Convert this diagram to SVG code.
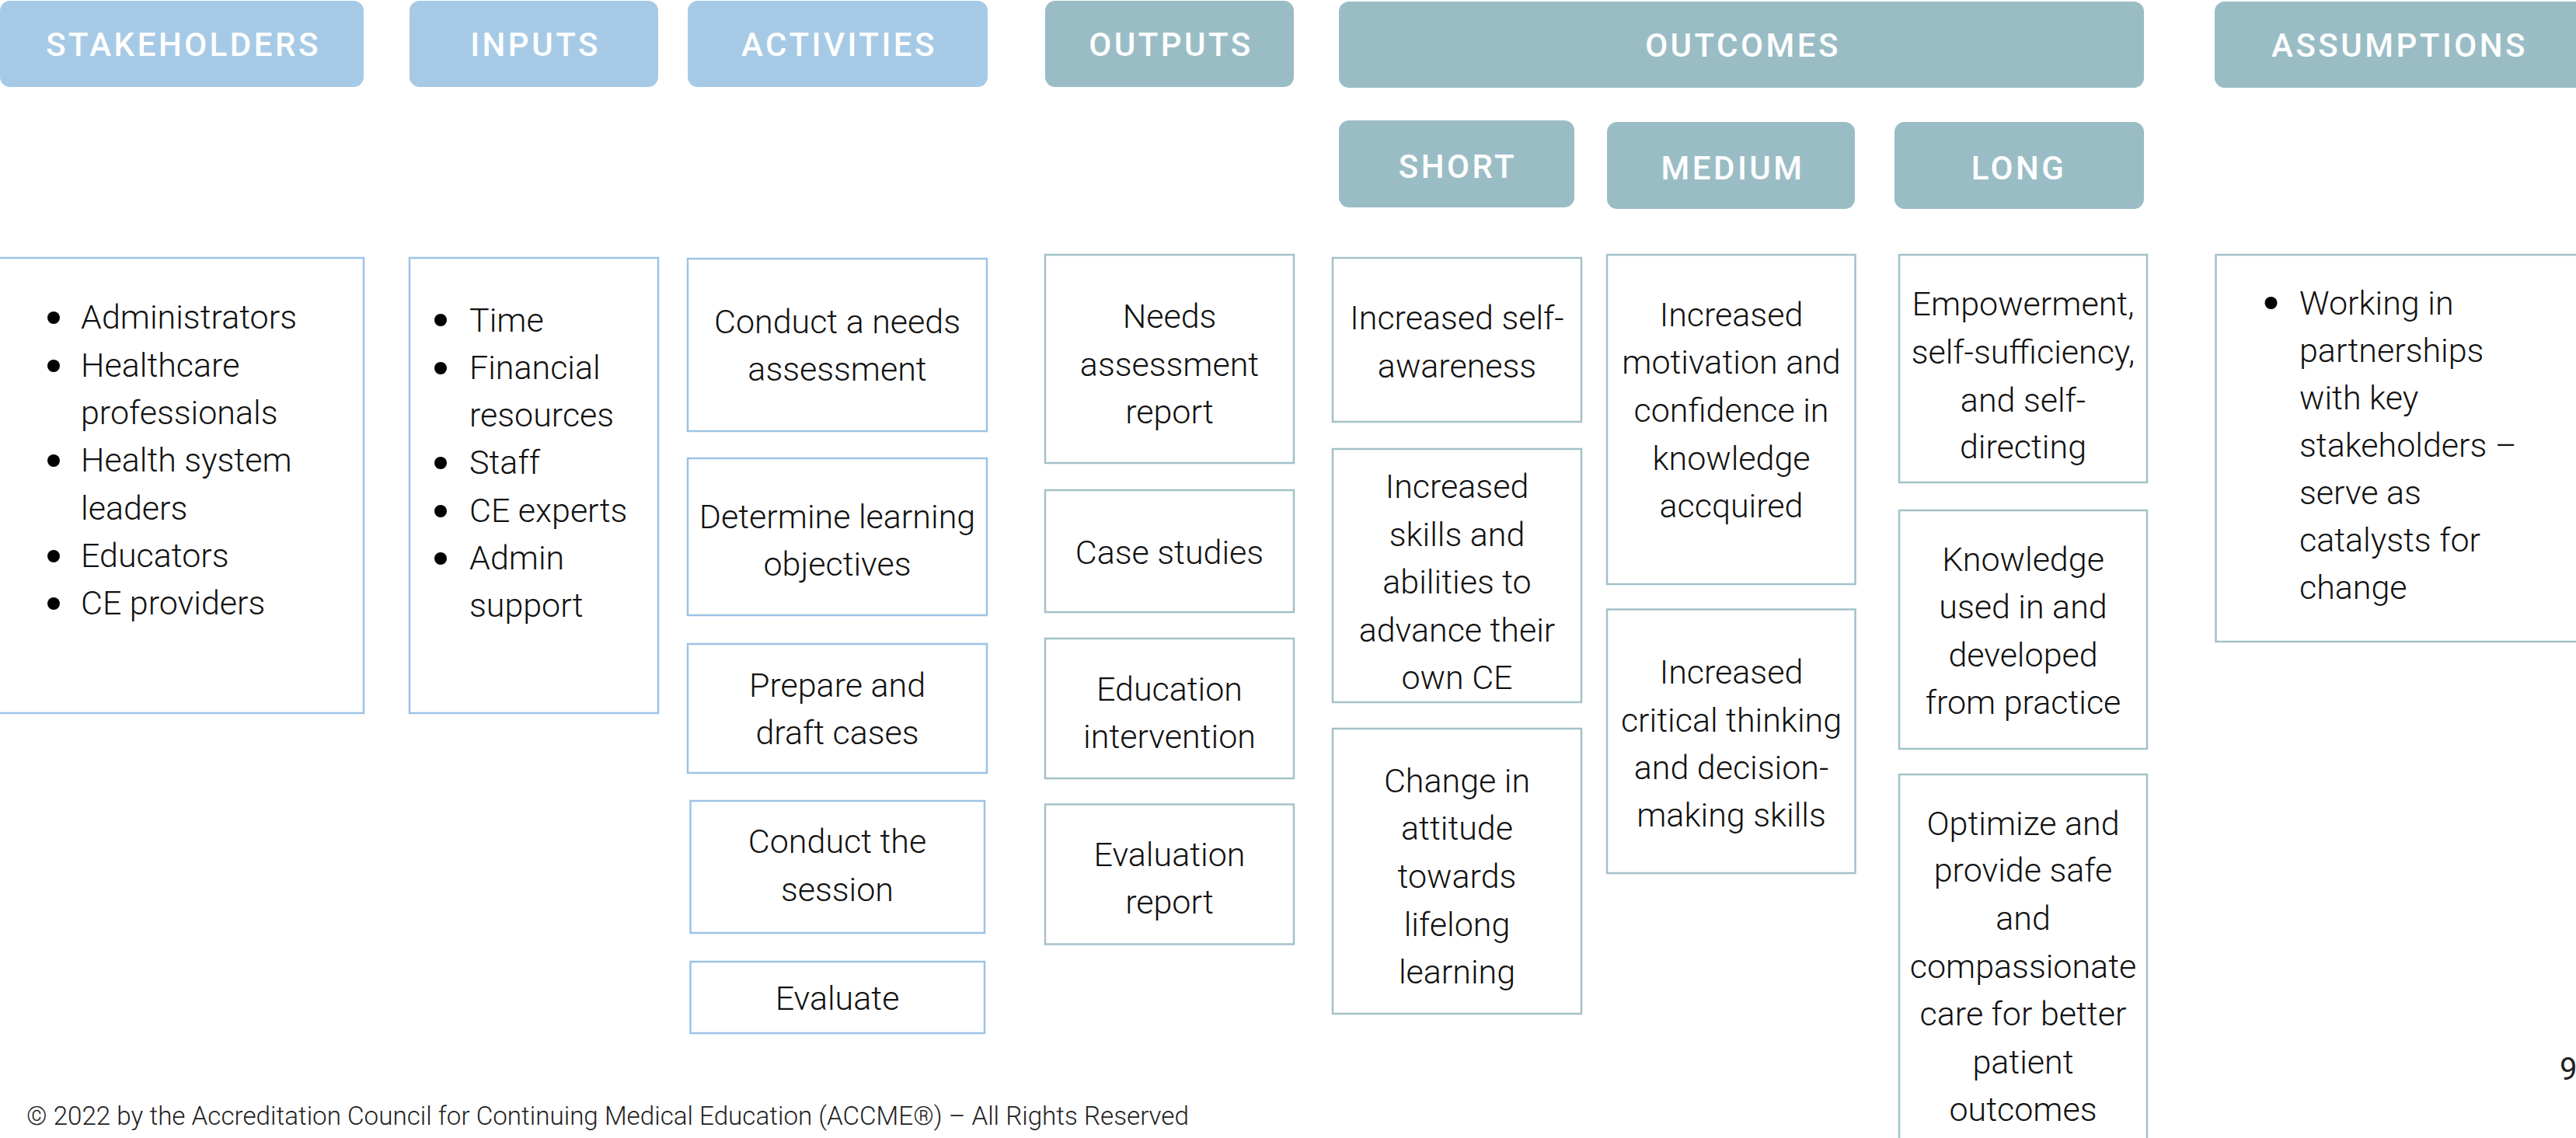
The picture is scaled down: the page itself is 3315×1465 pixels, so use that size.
<svg xmlns="http://www.w3.org/2000/svg" width="3315" height="1465" viewBox="0 0 3315 1465">
<style>
.hb{fill:#A6CAE6}
.ht{fill:#9ABDC5}
.bb{fill:#fff;stroke:#9DC3E6;stroke-width:2.5}
.bt{fill:#fff;stroke:#A3C1C9;stroke-width:2.5}
.h{font-family:Roboto,"Liberation Sans",Arial,sans-serif;font-weight:500;font-size:42px;fill:#fff;text-anchor:middle;letter-spacing:3.5px}
.t{font-family:Roboto,"Liberation Sans",Arial,sans-serif;font-weight:300;font-size:43px;fill:#111;text-anchor:middle}
.l{font-family:Roboto,"Liberation Sans",Arial,sans-serif;font-weight:300;font-size:43px;fill:#111}
.dot{fill:#000}
.f{font-family:Roboto,"Liberation Sans",Arial,sans-serif;font-weight:300;font-size:33.2px;fill:#222}
</style>
<rect width="3315" height="1465" fill="#fff"/>

<g id="h-stakeholders"><rect class="hb" x="0" y="1" width="468" height="111" rx="13"/><text class="h" x="236" y="72">STAKEHOLDERS</text></g>
<g id="h-inputs"><rect class="hb" x="527" y="1" width="320" height="111" rx="13"/><text class="h" x="689" y="72">INPUTS</text></g>
<g id="h-activities"><rect class="hb" x="885" y="1" width="386" height="111" rx="13"/><text class="h" x="1080" y="72">ACTIVITIES</text></g>
<g id="h-outputs"><rect class="ht" x="1345" y="1" width="320" height="111" rx="13"/><text class="h" x="1507" y="72">OUTPUTS</text></g>
<g id="h-outcomes"><rect class="ht" x="1723" y="2" width="1036" height="111" rx="13"/><text class="h" x="2243" y="73">OUTCOMES</text></g>
<g id="h-assumptions"><rect class="ht" x="2850" y="2" width="520" height="111" rx="13"/><text class="h" x="3088" y="73">ASSUMPTIONS</text></g>
<g id="h-short"><rect class="ht" x="1723" y="155" width="303" height="112" rx="13"/><text class="h" x="1876" y="229">SHORT</text></g>
<g id="h-medium"><rect class="ht" x="2068" y="157" width="319" height="112" rx="13"/><text class="h" x="2230" y="231">MEDIUM</text></g>
<g id="h-long"><rect class="ht" x="2438" y="157" width="321" height="112" rx="13"/><text class="h" x="2598" y="231">LONG</text></g>

<g id="stakeholders">
<rect class="bb" x="-5" y="332" width="473" height="586"/>
<circle class="dot" cx="69" cy="409" r="8"/><circle class="dot" cx="69" cy="471" r="8"/><circle class="dot" cx="69" cy="593" r="8"/><circle class="dot" cx="69" cy="716" r="8"/><circle class="dot" cx="69" cy="777" r="8"/>
<text class="l"><tspan x="104" y="423">Administrators</tspan><tspan x="104" y="485">Healthcare</tspan><tspan x="104" y="546">professionals</tspan><tspan x="104" y="607">Health system</tspan><tspan x="104" y="669">leaders</tspan><tspan x="104" y="730">Educators</tspan><tspan x="104" y="791">CE providers</tspan></text>
</g>
<g id="inputs">
<rect class="bb" x="527" y="332" width="320" height="586"/>
<circle class="dot" cx="567" cy="412" r="8"/><circle class="dot" cx="567" cy="474" r="8"/><circle class="dot" cx="567" cy="596" r="8"/><circle class="dot" cx="567" cy="658" r="8"/><circle class="dot" cx="567" cy="719" r="8"/>
<text class="l"><tspan x="604" y="427">Time</tspan><tspan x="604" y="488">Financial</tspan><tspan x="604" y="549">resources</tspan><tspan x="604" y="610">Staff</tspan><tspan x="604" y="672">CE experts</tspan><tspan x="604" y="733">Admin</tspan><tspan x="604" y="794">support</tspan></text>
</g>

<g id="act-1"><rect class="bb" x="885" y="333" width="385" height="222"/><text class="t"><tspan x="1077.5" y="429">Conduct a needs</tspan><tspan x="1077.5" y="490">assessment</tspan></text></g>
<g id="act-2"><rect class="bb" x="885" y="590" width="385" height="202"/><text class="t"><tspan x="1077.5" y="680">Determine learning</tspan><tspan x="1077.5" y="741">objectives</tspan></text></g>
<g id="act-3"><rect class="bb" x="885" y="829" width="385" height="166"/><text class="t"><tspan x="1077.5" y="897">Prepare and</tspan><tspan x="1077.5" y="958">draft cases</tspan></text></g>
<g id="act-4"><rect class="bb" x="888.5" y="1031" width="378.5" height="170"/><text class="t"><tspan x="1077.5" y="1098">Conduct the</tspan><tspan x="1077.5" y="1160">session</tspan></text></g>
<g id="act-5"><rect class="bb" x="888.5" y="1238" width="378.5" height="92"/><text class="t" x="1077.5" y="1300">Evaluate</text></g>

<g id="out-1"><rect class="bt" x="1345" y="328" width="320" height="268"/><text class="t"><tspan x="1505" y="422">Needs</tspan><tspan x="1505" y="484">assessment</tspan><tspan x="1505" y="545">report</tspan></text></g>
<g id="out-2"><rect class="bt" x="1345" y="631" width="320" height="157"/><text class="t" x="1505" y="726">Case studies</text></g>
<g id="out-3"><rect class="bt" x="1345" y="822" width="320" height="180"/><text class="t"><tspan x="1505" y="902">Education</tspan><tspan x="1505" y="963">intervention</tspan></text></g>
<g id="out-4"><rect class="bt" x="1345" y="1035.5" width="320" height="180"/><text class="t"><tspan x="1505" y="1115">Evaluation</tspan><tspan x="1505" y="1176">report</tspan></text></g>

<g id="short-1"><rect class="bt" x="1715" y="332" width="320" height="211"/><text class="t"><tspan x="1875" y="424">Increased self-</tspan><tspan x="1875" y="486">awareness</tspan></text></g>
<g id="short-2"><rect class="bt" x="1715" y="578" width="320" height="326"/><text class="t"><tspan x="1875" y="641">Increased</tspan><tspan x="1875" y="703">skills and</tspan><tspan x="1875" y="764">abilities to</tspan><tspan x="1875" y="826">advance their</tspan><tspan x="1875" y="887">own CE</tspan></text></g>
<g id="short-3"><rect class="bt" x="1715" y="938" width="320" height="367"/><text class="t"><tspan x="1875" y="1020">Change in</tspan><tspan x="1875" y="1081">attitude</tspan><tspan x="1875" y="1143">towards</tspan><tspan x="1875" y="1205">lifelong</tspan><tspan x="1875" y="1266">learning</tspan></text></g>

<g id="medium-1"><rect class="bt" x="2068" y="328" width="319.5" height="424"/><text class="t"><tspan x="2228" y="420">Increased</tspan><tspan x="2228" y="481">motivation and</tspan><tspan x="2228" y="543">confidence in</tspan><tspan x="2228" y="605">knowledge</tspan><tspan x="2228" y="666">accquired</tspan></text></g>
<g id="medium-2"><rect class="bt" x="2068" y="784.5" width="319.5" height="339.5"/><text class="t"><tspan x="2228" y="880">Increased</tspan><tspan x="2228" y="942">critical thinking</tspan><tspan x="2228" y="1003">and decision-</tspan><tspan x="2228" y="1064">making skills</tspan></text></g>

<g id="long-1"><rect class="bt" x="2444" y="328" width="319" height="293"/><text class="t"><tspan x="2603.5" y="406">Empowerment,</tspan><tspan x="2603.5" y="468">self-sufficiency,</tspan><tspan x="2603.5" y="530">and self-</tspan><tspan x="2603.5" y="590">directing</tspan></text></g>
<g id="long-2"><rect class="bt" x="2444" y="657" width="319" height="307"/><text class="t"><tspan x="2603.5" y="735">Knowledge</tspan><tspan x="2603.5" y="796">used in and</tspan><tspan x="2603.5" y="858">developed</tspan><tspan x="2603.5" y="919">from practice</tspan></text></g>
<g id="long-3"><rect class="bt" x="2444" y="997" width="319" height="480"/><text class="t"><tspan x="2603.5" y="1075">Optimize and</tspan><tspan x="2603.5" y="1135">provide safe</tspan><tspan x="2603.5" y="1197">and</tspan><tspan x="2603.5" y="1259">compassionate</tspan><tspan x="2603.5" y="1320">care for better</tspan><tspan x="2603.5" y="1382">patient</tspan><tspan x="2603.5" y="1443">outcomes</tspan></text></g>

<g id="assumptions">
<rect class="bt" x="2851.5" y="328" width="500" height="498"/>
<circle class="dot" cx="2922.5" cy="390" r="8"/>
<text class="l"><tspan x="2959" y="405">Working in</tspan><tspan x="2959" y="466">partnerships</tspan><tspan x="2959" y="527">with key</tspan><tspan x="2959" y="588">stakeholders –</tspan><tspan x="2959" y="649">serve as</tspan><tspan x="2959" y="710">catalysts for</tspan><tspan x="2959" y="771">change</tspan></text>
</g>

<g id="connectors"/>

<g id="footer">
<text class="f" x="34" y="1448">© 2022 by the Accreditation Council for Continuing Medical Education (ACCME®) – All Rights Reserved</text>
<text x="3294" y="1390" font-family="Roboto, Liberation Sans, Arial, sans-serif" font-size="40" fill="#222">9</text>
</g>
</svg>
